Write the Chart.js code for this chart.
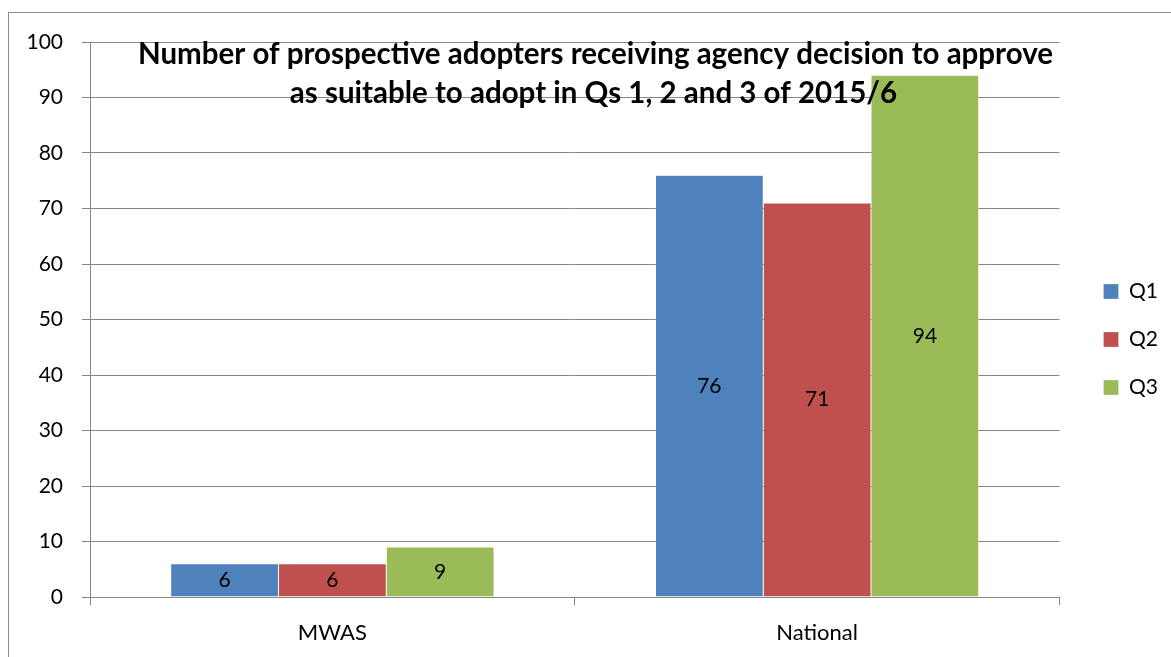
<!DOCTYPE html>
<html>
<head>
<meta charset="utf-8">
<script src="https://cdn.jsdelivr.net/npm/chart.js@4"></script>
<style>
  html, body { margin: 0; padding: 0; background: #fff; }
  #wrap { width: 1171px; height: 657px; position: relative; }
</style>
</head>
<body>
<div id="wrap"><canvas id="c" width="1171" height="657"></canvas></div>
<script>
const categories = ["MWAS", "National"];
const seriesNames = ["Q1", "Q2", "Q3"];
const q1Values = [6, 76];
const q2Values = [6, 71];
const q3Values = [9, 94];
const yTicks = [0, 10, 20, 30, 40, 50, 60, 70, 80, 90, 100];
const titleLines = [
  "Number of prospective adopters receiving agency decision to approve",
  "as suitable to adopt in Qs 1, 2 and 3 of 2015/6"
];

const FONT = "Lato";
const colors = ["#4F81BD", "#C0504D", "#9BBB59"];
const values = [q1Values, q2Values, q3Values];

const framePlugin = {
  id: "frame",
  afterLayout(chart) {
    // nudge legend to match the reference placement
    const lg = chart.legend;
    if (lg) {
      lg.left += 17; lg.right += 17;
      lg.top -= 10; lg.bottom -= 10;
    }
  },
  beforeDraw(chart) {
    const ctx = chart.ctx;
    ctx.save();
    ctx.strokeStyle = "#8c8c8c";
    ctx.lineWidth = 1;
    ctx.strokeRect(8.5, 12.5, 1300, 800);
    ctx.restore();
  }
};

const labelPlugin = {
  id: "barLabels",
  afterDatasetsDraw(chart) {
    const ctx = chart.ctx;
    ctx.save();
    ctx.fillStyle = "#000";
    ctx.font = "21px " + FONT;
    ctx.textAlign = "center";
    ctx.textBaseline = "middle";
    chart.data.datasets.forEach((ds, i) => {
      chart.getDatasetMeta(i).data.forEach((bar, j) => {
        const y = (bar.y + bar.base) / 2;
        ctx.fillText(String(ds.data[j]), bar.x, y);
      });
    });
    // title overlay
    ctx.font = "bold 29.5px " + FONT;
    ctx.textBaseline = "alphabetic";
    const cx = chart.width / 2 + 10;
    ctx.fillText(titleLines[0], cx, 64);
    ctx.fillText(titleLines[1], cx - 2, 103);
    ctx.restore();
  }
};

new Chart(document.getElementById("c"), {
  type: "bar",
  data: {
    labels: categories,
    datasets: seriesNames.map((name, i) => ({
      label: name,
      data: values[i],
      backgroundColor: colors[i],
      borderColor: "rgba(255,255,255,0.5)",
      borderWidth: 0.5,
      categoryPercentage: 0.667,
      barPercentage: 1.0
    }))
  },
  options: {
    responsive: false,
    animation: false,
    layout: { padding: { left: 0, top: 42, right: 20, bottom: 0 } },
    plugins: {
      title: { display: false },
      tooltip: { enabled: false },
      legend: {
        display: true,
        position: "right",
        labels: {
          font: { family: FONT, size: 21 },
          color: "#000",
          boxWidth: 15,
          boxHeight: 15,
          padding: 27
        }
      }
    },
    scales: {
      x: {
        afterFit(s) { s.height = 60; },
        grid: {
          offset: true,
          drawOnChartArea: false,
          drawTicks: true,
          tickLength: 8,
          color: "#868686"
        },
        border: { display: true, color: "#868686", width: 1 },
        ticks: {
          font: { family: FONT, size: 22 },
          color: "#000",
          padding: 15
        }
      },
      y: {
        min: 0,
        max: 100,
        afterFit(s) { s.width = 90; },
        afterBuildTicks(s) { s.ticks = yTicks.map(v => ({ value: v })); },
        grid: {
          color: "#868686",
          drawTicks: true,
          tickLength: 8
        },
        border: { display: true, color: "#868686", width: 1 },
        ticks: {
          font: { family: FONT, size: 21 },
          color: "#000",
          padding: 19
        }
      }
    }
  },
  plugins: [framePlugin, labelPlugin]
});
</script>
</body>
</html>
